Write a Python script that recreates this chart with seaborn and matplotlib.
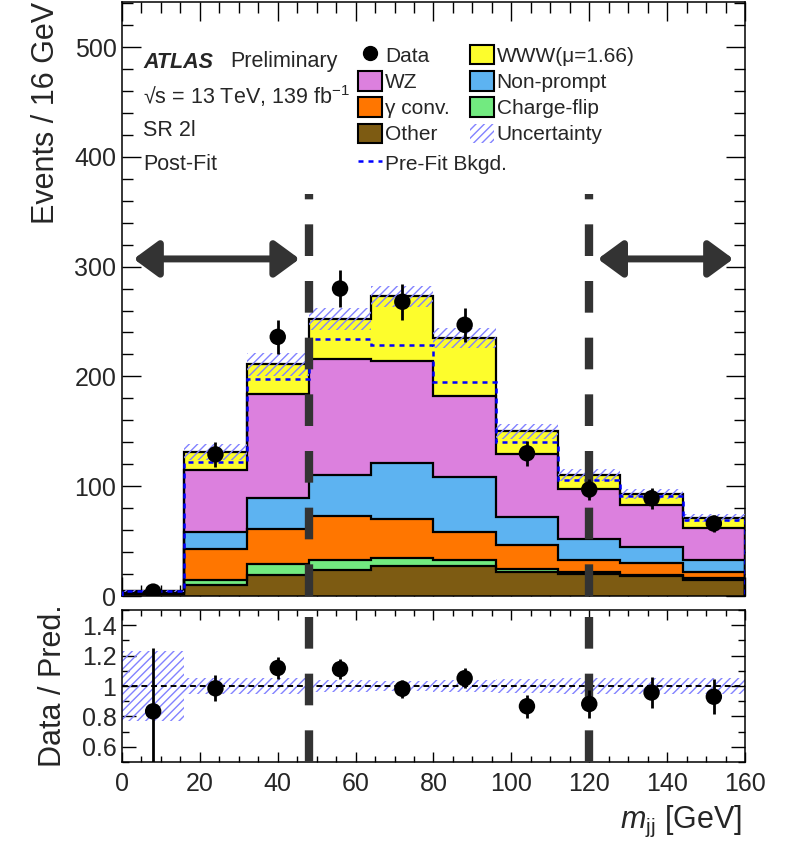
# %%
# Imports and settings
import numpy as np
import pandas as pd
import seaborn as sns
import matplotlib.pyplot as plt
from matplotlib.lines import Line2D
from matplotlib.patches import Patch
from matplotlib.ticker import MultipleLocator, FixedLocator, FixedFormatter

sns.set_theme(style="ticks")
plt.rcParams["font.family"] = ["Liberation Sans", "DejaVu Sans"]
plt.rcParams["mathtext.fontset"] = "custom"
plt.rcParams["mathtext.rm"] = "Liberation Sans"
plt.rcParams["mathtext.it"] = "Liberation Sans:italic"
plt.rcParams["hatch.linewidth"] = 1.0

# %%
# Values (m_jj bins of 16 GeV)
bin_edges = np.arange(0, 161, 16)
other = [1.5, 10, 19, 24, 27, 27, 22, 20, 18, 15]
charge_flip = [0.2, 5, 10, 9, 8, 6, 3, 2, 1, 1]
gamma_conv = [0.8, 28, 32, 40, 35, 25, 21, 11, 11, 6]
non_prompt = [0.8, 15, 28, 37, 51, 50, 26, 19, 15, 11]
wz = [1.3, 57, 95, 106, 93, 74, 57, 45, 38, 29]
www = [0.2, 16, 27, 36, 59, 53, 21, 13, 10, 9]
prefit_bkg = [4.6, 122, 198, 234, 229, 195, 140, 106, 91, 69]
data = [4, 129, 236, 280, 268, 247, 130, 97, 89, 66]
rel_unc = [0.23, 0.055, 0.05, 0.04, 0.035, 0.04, 0.045, 0.05, 0.05, 0.055]

sample_names = ["Other", "Charge-flip", "γ conv.", "Non-prompt", "WZ", "WWW(μ=1.66)"]
sample_colors = ["#7d5b12", "#72ea80", "#ff7600", "#5db3f1", "#dc80de", "#fdfd2c"]

cut_lines = [48, 120]

# %%
# Derived quantities
stack = np.array([other, charge_flip, gamma_conv, non_prompt, wz, www], dtype=float)
cum = np.cumsum(stack, axis=0)
total = cum[-1]
centers = 0.5 * (bin_edges[:-1] + bin_edges[1:])
data = np.array(data, dtype=float)
rel_unc = np.array(rel_unc)
df = pd.DataFrame({"mjj": centers, "data": data, "err": np.sqrt(data),
                   "ratio": data / total, "ratio_err": np.sqrt(data) / total})

# %%
# Figure layout
W, H = 790, 844
fig = plt.figure(figsize=(W / 100, H / 100), dpi=100)
ax = fig.add_axes([122 / W, 1 - 596 / H, 623 / W, 594 / H])
rax = fig.add_axes([122 / W, 1 - 762 / H, 623 / W, 152 / H])

hatch_col = "#8282ff"

# stacked backgrounds
for i in range(len(sample_names)):
    lower = cum[i - 1] if i > 0 else np.zeros_like(total)
    ax.stairs(cum[i], bin_edges, baseline=lower, fill=True,
              color=sample_colors[i], lw=0, zorder=1)
for i in range(len(sample_names)):
    ax.stairs(cum[i], bin_edges, baseline=0, color="black", lw=1.6, zorder=2)

# uncertainty band
ax.stairs(total * (1 + rel_unc), bin_edges, baseline=total * (1 - rel_unc),
          fill=True, facecolor="none", edgecolor=hatch_col, hatch="////", lw=0, zorder=3)

# pre-fit background
ax.stairs(prefit_bkg, bin_edges, baseline=0, color="#0000ff", lw=1.8,
          linestyle=(0, (2, 2)), zorder=3)

# cut lines and arrows
for x in cut_lines:
    ax.plot([x, x], [0, 366], color="#333333", lw=6, linestyle=(0, (3.8, 3.0)), zorder=4)
    rax.plot([x, x], [0.5, 1.46], color="#333333", lw=6, linestyle=(0, (3.8, 3.0)), zorder=4)

arrow_kw = dict(arrowstyle="<|-|>,head_length=0.75,head_width=0.55", lw=5,
                color="#333333", mutation_scale=20, shrinkA=0, shrinkB=0)
ax.annotate("", xy=(3.0, 307), xytext=(45.6, 307), arrowprops=arrow_kw, zorder=4)
ax.annotate("", xy=(122.2, 307), xytext=(157.0, 307), arrowprops=arrow_kw, zorder=4)

# data
ax.errorbar(df["mjj"], df["data"], yerr=df["err"], fmt="none", ecolor="black",
            elinewidth=2, capsize=0, zorder=5)
sns.scatterplot(data=df, x="mjj", y="data", ax=ax, color="black", s=140,
                edgecolor="none", zorder=6, legend=False)

ax.set_xlim(0, 160)
ax.set_ylim(0, 541)
ax.set_xlabel("")
ax.set_ylabel("Events / 16 GeV", fontsize=22, loc="top", labelpad=10)
ax.set_xticklabels([])

# %%
# Ratio panel
rax.stairs(1 + rel_unc, bin_edges, baseline=1 - rel_unc, fill=True,
           facecolor="none", edgecolor=hatch_col, hatch="////", lw=0, zorder=2)
rax.axhline(1, color="black", lw=1.4, linestyle=(0, (3, 2)), zorder=3)
rax.errorbar(df["mjj"], df["ratio"], yerr=df["ratio_err"], fmt="none",
             ecolor="black", elinewidth=2, capsize=0, zorder=5)
sns.scatterplot(data=df, x="mjj", y="ratio", ax=rax, color="black", s=140,
                edgecolor="none", zorder=6, legend=False)
rax.set_xlim(0, 160)
rax.set_ylim(0.5, 1.5)
rax.yaxis.set_major_locator(FixedLocator([0.6, 0.8, 1.0, 1.2, 1.4]))
rax.yaxis.set_major_formatter(FixedFormatter(["0.6", "0.8", "1", "1.2", "1.4"]))
rax.yaxis.set_minor_locator(MultipleLocator(0.1))
rax.set_ylabel("Data / Pred.", fontsize=22, labelpad=10)
rax.set_xlabel(r"$m_{\mathrm{jj}}$ [GeV]", fontsize=22, loc="right", labelpad=6)
rax.xaxis.label.set_position((0.995, 0))

for a in (ax, rax):
    a.xaxis.set_major_locator(MultipleLocator(20))
    a.xaxis.set_minor_locator(MultipleLocator(5))
    for s in a.spines.values():
        s.set_linewidth(1.1)
        s.set_color("black")
    a.tick_params(which="both", direction="in", top=True, right=True,
                  labelsize=18, color="black", width=1.0)
ax.yaxis.set_major_locator(MultipleLocator(100))
ax.yaxis.set_minor_locator(MultipleLocator(20))
ax.tick_params(which="major", length=14, pad=4)
ax.tick_params(which="minor", length=8)
rax.tick_params(axis="x", which="major", length=7, pad=7)
rax.tick_params(axis="x", which="minor", length=4)
rax.tick_params(axis="y", which="major", length=10, pad=4)
rax.tick_params(axis="y", which="minor", length=5)

# %%
# Labels and legend
txt = dict(transform=fig.transFigure, fontsize=15.5, va="center", ha="left")
fig.text(143 / W, 1 - 62 / H, "ATLAS", fontweight="bold", fontstyle="italic", **txt)
fig.text(230 / W, 1 - 62 / H, "Preliminary", **txt)
fig.text(143 / W, 1 - 96 / H, "√s = 13 TeV, 139 fb$^{-1}$", **txt)
fig.text(143 / W, 1 - 131 / H, "SR 2l", **txt)
fig.text(143 / W, 1 - 165 / H, "Post-Fit", **txt)

box = lambda c: Patch(facecolor=c, edgecolor="black", lw=1.5)
handles = [Line2D([], [], marker="o", color="black", ls="none", ms=10),
           box(sample_colors[4]), box(sample_colors[2]), box(sample_colors[0]),
           box(sample_colors[5]), box(sample_colors[3]), box(sample_colors[1]),
           Patch(facecolor="none", edgecolor=hatch_col, hatch="////", lw=0)]
labels = ["Data", "WZ", "γ conv.", "Other",
          "WWW(μ=1.66)", "Non-prompt", "Charge-flip", "Uncertainty"]
leg_kw = dict(loc="upper left", bbox_transform=fig.transFigure, frameon=False,
              fontsize=15, borderpad=0, borderaxespad=0, handlelength=1.15,
              handleheight=1.05, handletextpad=0.15, labelspacing=0.26)
leg = ax.legend(handles, labels, ncol=2, columnspacing=0.95,
                bbox_to_anchor=(358 / W, 1 - 45 / H), **leg_kw)
ax.add_artist(leg)
ax.legend([Line2D([], [], color="#0000ff", lw=1.8, ls=(0, (2, 2)))], ["Pre-Fit Bkgd."],
          bbox_to_anchor=(358 / W, 1 - 153 / H), **leg_kw)

fig.savefig("out.png", dpi=100)
